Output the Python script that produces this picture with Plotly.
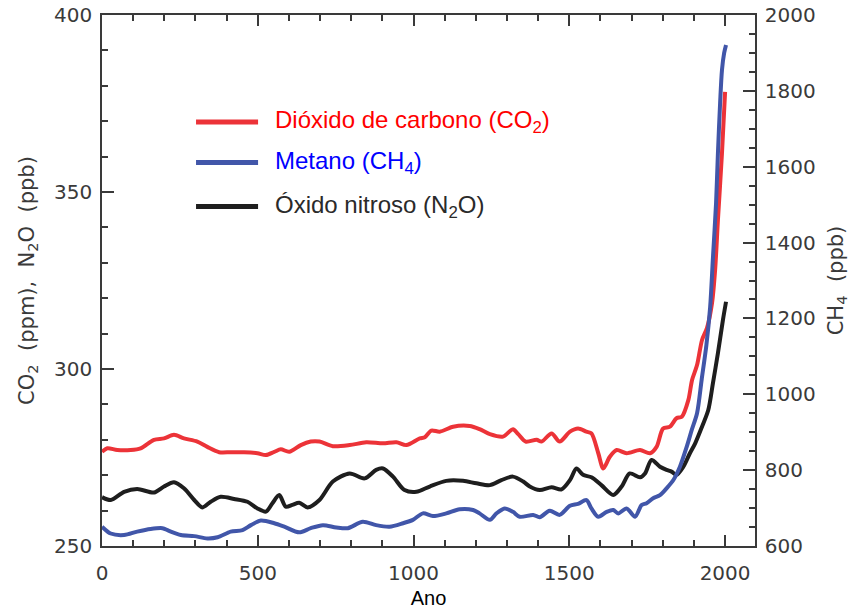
import plotly.graph_objects as go

# ---- data ----
co2_years = [0, 17, 49, 92, 124, 167, 199, 231, 263, 306, 338, 376, 413, 456, 499, 526, 553, 574, 601, 638,
             670, 698, 741, 795, 848, 902, 945, 977, 1020, 1036, 1057, 1084, 1127, 1180, 1212, 1245, 1287, 1319,
             1336, 1360, 1395, 1411, 1443, 1469, 1502, 1528, 1555, 1571, 1593, 1609, 1630, 1652, 1684, 1727,
             1759, 1780, 1801, 1823, 1844, 1861, 1882, 1894, 1910, 1926, 1942, 1958, 1968, 1977, 1990, 2000]
co2_ppm = [276.6, 277.6, 277.1, 277.1, 277.6, 280.0, 280.4, 281.4, 280.4, 279.5, 278.0, 276.5, 276.5, 276.5,
           276.2, 275.7, 276.6, 277.3, 276.6, 278.5, 279.5, 279.5, 278.2, 278.5, 279.3, 279.0, 279.3, 278.5,
           280.4, 280.7, 282.6, 282.3, 283.7, 283.9, 283.0, 281.6, 280.9, 283.0, 281.6, 279.5, 280.0, 279.5,
           281.8, 279.5, 282.3, 283.2, 282.3, 281.8, 276.2, 271.9, 275.2, 277.1, 276.2, 277.1, 276.2, 278.0,
           283.2, 283.7, 286.1, 286.5, 291.2, 296.9, 301.1, 308.2, 311.6, 318.6, 328.0, 342.1, 361.0, 378.3]

ch4_years = [0, 28, 71, 113, 156, 194, 215, 253, 296, 338, 371, 413, 451, 478, 510, 553, 585, 633, 670, 709,
             752, 789, 837, 880, 923, 966, 998, 1030, 1062, 1105, 1148, 1191, 1212, 1245, 1266, 1293, 1319,
             1341, 1384, 1405, 1437, 1469, 1502, 1528, 1555, 1571, 1593, 1620, 1641, 1657, 1684, 1711, 1732,
             1748, 1769, 1791, 1812, 1834, 1855, 1877, 1893, 1910, 1925, 1940, 1952, 1961, 1971, 1977, 1984,
             1990, 1997, 2003]
ch4_ppb = [651, 633, 629, 638, 645, 647, 640, 629, 626, 620, 623, 638, 642, 655, 667, 660, 651, 636, 647, 655,
           649, 647, 664, 655, 651, 660, 669, 686, 679, 686, 697, 695, 686, 669, 686, 699, 690,
           677, 682, 676, 693, 682, 706, 711, 721, 699, 677, 690, 695, 686, 699, 677, 708,
           713, 726, 734, 752, 774, 809, 862, 906, 950, 1040, 1130, 1230, 1360, 1504, 1636, 1768,
           1855, 1900, 1921]

n2o_years = [0, 28, 71, 113, 167, 199, 231, 263, 296, 322, 349, 381, 424, 467, 499, 526, 547, 569, 590, 611,
             633, 660, 698, 741, 795, 843, 880, 902, 934, 971, 1009, 1052, 1105, 1159, 1202, 1245, 1282, 1319,
             1352, 1373, 1405, 1443, 1475, 1502, 1523, 1544, 1571, 1603, 1641, 1668, 1694, 1727, 1743, 1764,
             1791, 1812, 1828, 1844, 1866, 1887, 1904, 1925, 1946, 1961, 1977, 1993, 2003]
n2o_ppb = [263.8, 263.0, 265.3, 266.1, 265.1, 266.8, 268.0, 266.3, 263.0, 260.9, 262.5, 263.9, 263.3, 262.5,
           260.6, 259.7, 262.1, 264.4, 261.1, 261.6, 262.2, 260.9, 263.0, 268.2, 270.5, 269.1, 271.5, 271.9,
           269.6, 265.8, 265.3, 266.8, 268.4, 268.4, 267.7, 267.2, 268.6, 269.6, 268.2, 266.8, 265.8, 266.6,
           266.0, 268.6, 271.9, 270.1, 269.4, 267.2, 264.4, 266.8, 270.5, 269.4, 270.5, 274.3, 272.4, 271.5,
           271.0, 270.1, 272.4, 276.2, 279.0, 283.5, 288.4, 296.0, 304.5, 313.8, 319.0]

series_names = ["Dióxido de carbono (CO<sub>2</sub>)", "Metano (CH<sub>4</sub>)", "Óxido nitroso (N<sub>2</sub>O)"]

# ---- styles ----
RED, BLUE, BLACK = "#ec3338", "#4156a9", "#1e1e1e"
TXT_COLORS = ["#ff0000", "#0000ff", "#2a2a2a"]
AX = "#3a3a3a"
TICKFONT = dict(family="DejaVu Sans", size=20, color="#3a3a3a")
SP = "\u00a0\u00a0"

fig = go.Figure()
fig.add_trace(go.Scatter(x=co2_years, y=co2_ppm, mode="lines", yaxis="y",
                         line=dict(color=RED, width=4, shape="spline", smoothing=0.8), showlegend=False))
fig.add_trace(go.Scatter(x=n2o_years, y=n2o_ppb, mode="lines", yaxis="y",
                         line=dict(color=BLACK, width=4, shape="spline", smoothing=0.8), showlegend=False))
fig.add_trace(go.Scatter(x=ch4_years, y=ch4_ppb, mode="lines", yaxis="y2",
                         line=dict(color=BLUE, width=4, shape="spline", smoothing=0.8), showlegend=False))

fig.update_layout(
    width=850, height=609,
    margin=dict(l=102, r=95, t=15, b=63, autoexpand=False),
    paper_bgcolor="white", plot_bgcolor="white",
    xaxis=dict(range=[0, 2096], dtick=500, tick0=0, showgrid=False, zeroline=False, automargin=False,
               showline=True, linecolor=AX, linewidth=1.5, mirror="ticks",
               ticks="inside", ticklen=11, tickwidth=1.5, tickcolor=AX,
               minor=dict(dtick=100, ticks="inside", ticklen=6, tickwidth=1.5, tickcolor=AX),
               tickfont=TICKFONT, ticklabelstandoff=8,
               title=dict(text="Ano", font=dict(family="Liberation Sans", size=20, color="black"), standoff=12)),
    yaxis=dict(range=[250, 400], dtick=50, tick0=250, showgrid=False, zeroline=False, automargin=False,
               showline=True, linecolor=AX, linewidth=1.5,
               ticks="inside", ticklen=12, tickwidth=1.5, tickcolor=AX,
               minor=dict(dtick=10, ticks="inside", ticklen=6, tickwidth=1.5, tickcolor=AX),
               tickfont=TICKFONT, ticklabelstandoff=4,
               title=dict(text="CO<sub>2</sub>" + SP + "(ppm)," + SP + "N<sub>2</sub>O" + SP + "(ppb)",
                          font=dict(family="DejaVu Sans", size=21, color="#3a3a3a"), standoff=14)),
    yaxis2=dict(range=[600, 2000], dtick=200, tick0=600, overlaying="y", side="right", automargin=False,
                showgrid=False, zeroline=False,
                showline=True, linecolor=AX, linewidth=1.5,
                ticks="inside", ticklen=12, tickwidth=1.5, tickcolor=AX,
                minor=dict(dtick=50, ticks="inside", ticklen=6, tickwidth=1.5, tickcolor=AX),
                tickfont=TICKFONT, ticklabelstandoff=4,
                title=dict(text="CH<sub>4</sub>" + SP + "(ppb)",
                           font=dict(family="DejaVu Sans", size=21, color="#3a3a3a"), standoff=20)),
)

# manual legend (long line samples + coloured labels)
leg_y = [0.7985, 0.7222, 0.6394]
line_cols = [RED, BLUE, BLACK]
for name, yy, lc, tc in zip(series_names, leg_y, line_cols, TXT_COLORS):
    fig.add_shape(type="line", xref="paper", yref="paper", x0=0.144, x1=0.239, y0=yy, y1=yy,
                  line=dict(color=lc, width=5))
    fig.add_annotation(xref="paper", yref="paper", x=0.262, y=yy, xanchor="left", yanchor="middle",
                       text=name, showarrow=False,
                       font=dict(family="Liberation Sans", size=24, color=tc))

fig.write_html("out.html")
